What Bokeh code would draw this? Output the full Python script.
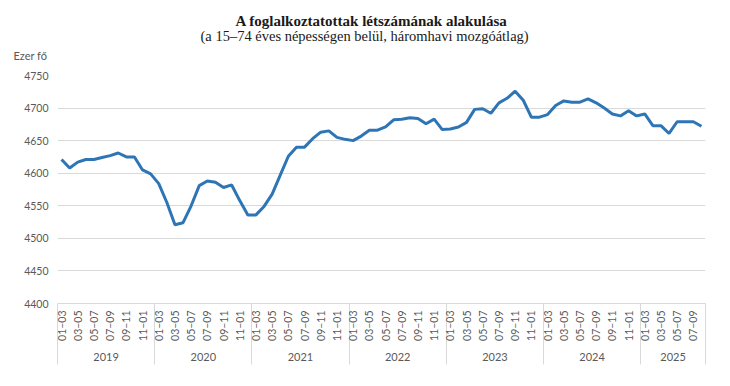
from bokeh.plotting import figure
from bokeh.models import Range1d, FixedTicker, LinearAxis, Title
from bokeh.embed import file_html
from bokeh.resources import INLINE

title_text = "A foglalkoztatottak létszámának alakulása"
subtitle_text = "(a 15–74 éves népességen belül, háromhavi mozgóátlag)"
unit_text = "Ezer fő"

years = [2019, 2020, 2021, 2022, 2023, 2024, 2025]
months_per_year = [12, 12, 12, 12, 12, 12, 8]
periods = ["01–03", "02–04", "03–05", "04–06", "05–07", "06–08",
           "07–09", "08–10", "09–11", "10–12", "11–01", "12–02"]
labelled_periods = ["01–03", "03–05", "05–07", "07–09", "09–11", "11–01"]

employed = [
    # 2019
    4621, 4608, 4617, 4621, 4621, 4624, 4627, 4631, 4625, 4625, 4605, 4599,
    # 2020
    4584, 4555, 4521, 4524, 4550, 4581, 4588, 4586, 4578, 4582, 4558, 4536,
    # 2021
    4536, 4549, 4568, 4597, 4626, 4640, 4640, 4653, 4663, 4665, 4655, 4652,
    # 2022
    4650, 4657, 4666, 4666, 4671, 4682, 4683, 4685, 4684, 4676, 4683, 4667,
    # 2023
    4668, 4671, 4678, 4698, 4699, 4692, 4708, 4715, 4726, 4712, 4686, 4686,
    # 2024
    4690, 4704, 4711, 4709, 4709, 4714, 4708, 4700, 4691, 4688, 4696, 4688,
    # 2025
    4691, 4673, 4673, 4661, 4679, 4679, 4679, 4672,
]

y_ticks = [4400, 4450, 4500, 4550, 4600, 4650, 4700, 4750]

# positions derived from the data structure
n = len(employed)
xs = [i + 0.5 for i in range(n)]
period_of = []
for y, cnt in zip(years, months_per_year):
    period_of += periods[:cnt]
month_ticks = [xs[i] for i in range(n) if period_of[i] in labelled_periods]
month_labels = {xs[i]: period_of[i] for i in range(n) if period_of[i] in labelled_periods}
bounds = [0]
for cnt in months_per_year:
    bounds.append(bounds[-1] + cnt)
year_centers = [(bounds[k] + bounds[k + 1]) / 2 for k in range(len(years))]
year_labels = {c: str(y) for c, y in zip(year_centers, years)}

GRAY = "#d9d9d9"
TXT = "#595959"
FONT = "Lato"
SEP_LEN = 61

p = figure(width=714, height=370, output_backend="svg", toolbar_location=None,
           x_range=Range1d(0, n), y_range=Range1d(y_ticks[0], y_ticks[-1]),
           min_border_left=57, min_border_right=9, min_border_top=75,
           min_border_bottom=67, outline_line_color=None,
           background_fill_color="white", border_fill_color="white")

p.line(xs, employed, line_color="#2E75B6", line_width=3)

# y axis
p.yaxis.ticker = FixedTicker(ticks=y_ticks)
p.yaxis.axis_line_color = None
p.yaxis.major_tick_line_color = None
p.yaxis.minor_tick_line_color = None
p.yaxis.major_tick_out = 0
p.yaxis.minor_tick_out = 0
p.yaxis.major_label_standoff = 9
p.yaxis.major_label_text_font = FONT
p.yaxis.major_label_text_font_size = "10.5px"
p.yaxis.major_label_text_color = TXT

p.ygrid.ticker = FixedTicker(ticks=y_ticks)
p.ygrid.grid_line_color = GRAY
p.ygrid.grid_line_width = 1
p.xgrid.grid_line_color = None

# month axis (minor ticks act as year separators)
xa = p.xaxis[0]
xa.ticker = FixedTicker(ticks=month_ticks, minor_ticks=bounds)
xa.major_label_overrides = month_labels
xa.major_label_orientation = 1.5707963
xa.axis_line_color = GRAY
xa.major_tick_line_color = None
xa.major_tick_out = 0
xa.major_tick_in = 0
xa.minor_tick_line_color = GRAY
xa.minor_tick_in = 0
xa.minor_tick_out = SEP_LEN
xa.major_label_standoff = 7 - SEP_LEN
xa.major_label_text_font = FONT
xa.major_label_text_font_size = "10.5px"
xa.major_label_text_color = TXT

# year axis
ya = LinearAxis(ticker=FixedTicker(ticks=year_centers))
ya.major_label_overrides = year_labels
ya.axis_line_color = None
ya.major_tick_line_color = None
ya.minor_tick_line_color = None
ya.major_tick_out = 0
ya.minor_tick_out = 0
ya.major_label_standoff = 9
ya.major_label_text_font = FONT
ya.major_label_text_font_size = "11px"
ya.major_label_text_color = TXT
p.add_layout(ya, "below")

# texts above the plot area (first added is closest to the plot)
p.add_layout(Title(text=" ", text_font_size="1px", standoff=5), "above")
p.add_layout(Title(text=unit_text, align="left", offset=-44, standoff=9,
                   vertical_align="middle",
                   text_font=FONT, text_font_size="11px", text_font_style="normal",
                   text_color=TXT), "above")
p.add_layout(Title(text=subtitle_text, align="left", offset=143, standoff=-3,
                   vertical_align="middle",
                   text_font="Liberation Serif", text_font_size="14.5px",
                   text_font_style="normal", text_color="#1a1a1a"), "above")
p.add_layout(Title(text=title_text, align="left", offset=178, standoff=-3,
                   vertical_align="middle",
                   text_font="Liberation Serif", text_font_size="15px",
                   text_font_style="bold", text_color="#1a1a1a"), "above")

open("out.html", "w").write(file_html(p, INLINE))
